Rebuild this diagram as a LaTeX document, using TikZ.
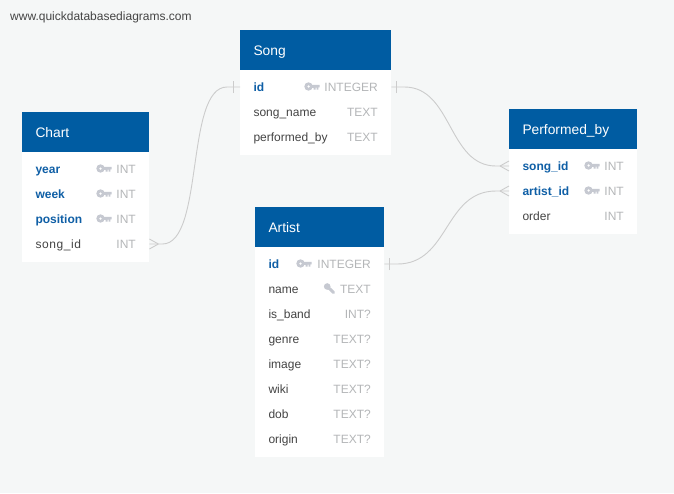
\documentclass[tikz,border=0pt]{standalone}
\usepackage{fontspec}
\setmainfont{Liberation Sans}
\definecolor{bgc}{HTML}{F5F7F7}
\definecolor{headc}{HTML}{005CA2}
\definecolor{keyc}{HTML}{0F5FA6}
\definecolor{darkc}{HTML}{444444}
\definecolor{typec}{HTML}{B4B6B8}
\definecolor{iconc}{HTML}{C6C9D1}
\definecolor{linkc}{HTML}{CCCCCC}
\tikzset{
  x=1pt,y=-1pt,
  bodybox/.style={fill=white,draw=none,anchor=north west,inner sep=0pt},
  headbox/.style={fill=headc,draw=none,anchor=north west,inner sep=0pt},
  headtext/.style={text=white,anchor=base west,inner sep=0pt,font=\fontsize{13.8}{15}\selectfont},
  rowbox/.style={anchor=west,inner sep=0pt,minimum height=25pt},
  fieldtext/.style={text=darkc,anchor=base west,inner sep=0pt,font=\fontsize{12}{14}\selectfont},
  fktext/.style={text=darkc,anchor=base west,inner sep=0pt,font=\fontsize{12}{14}\selectfont\addfontfeatures{LetterSpace=5}},
  pktext/.style={text=keyc,anchor=base west,inner sep=0pt,font=\fontsize{12}{14}\selectfont\bfseries},
  typetext/.style={text=typec,anchor=base east,inner sep=0pt,font=\fontsize{12}{14}\selectfont},
  link/.style={draw=linkc,line width=0.9pt},
  tickmark/.style={draw=linkc,line width=0.9pt},
  brand/.style={text=darkc,anchor=base west,inner sep=0pt,font=\fontsize{12}{14}\selectfont},
}
% table: name, x, y, width, height of body end, title
\newcommand{\dbtable}[6]{%
  \node[bodybox,minimum width=#4pt,minimum height=#5pt] (#1) at (#2,#3) {};
  \node[headbox,minimum width=#4pt,minimum height=40pt] (#1head) at (#2,#3) {};
  \node[headtext] (#1title) at (#2+13.3,#3+25) {#6};
}
% row: node name, table x, width, y, field style, field, type
\newcommand{\dbrow}[7]{%
  \node[rowbox,minimum width=#3pt] (#1) at (#2,#4) {};
  \node[#5] (#1f) at (#2+13.3,#4+4) {#6};
  \node[typetext] (#1t) at (#2+#3-13,#4+4) {#7};
}
\newcommand{\keyicon}[2]{%
  \fill[iconc,even odd rule] (#1+4,#2) circle (4.2) (#1+4,#2) circle (1.5);
  \fill[iconc] (#1+7,#2-1.7) -- (#1+15,#2-1.7) -- (#1+15,#2+0.9) -- (#1+13.8,#2+0.9) -- (#1+13.8,#2+3) -- (#1+12,#2+3) -- (#1+12,#2+1.2) -- (#1+11,#2+1.2) -- (#1+11,#2+3) -- (#1+9.2,#2+3) -- (#1+9.2,#2+1.4) -- (#1+7,#2+1.4) -- cycle;
}
\newcommand{\wrenchicon}[2]{%
  \draw[iconc,line width=3pt,line cap=round] (#1+3.6,#2-0.2) -- (#1+9.6,#2+5.6);
  \fill[iconc] (#1+3.2,#2-0.5) circle (3.3);
}
\begin{document}
\begin{tikzpicture}
\useasboundingbox (0,0) rectangle (674,493);
\fill[bgc] (0,0) rectangle (674,493);
\node[brand] (site) at (10,20) {www.quickdatabasediagrams.com};

\dbtable{chart}{22}{112}{127}{150}{Chart}
\dbrow{cyear}{22}{127}{169}{pktext}{year}{INT}
\dbrow{cweek}{22}{127}{194}{pktext}{week}{INT}
\dbrow{cpos}{22}{127}{219}{pktext}{position}{INT}
\dbrow{csong}{22}{127}{244}{fktext}{song\_id}{INT}
\keyicon{96.5}{168.5}\keyicon{96.5}{193.5}\keyicon{96.5}{218.5}

\dbtable{song}{240}{30}{151}{125}{Song}
\dbrow{sid}{240}{151}{87}{pktext}{id}{INTEGER}
\dbrow{sname}{240}{151}{112}{fieldtext}{song\_name}{TEXT}
\dbrow{sperf}{240}{151}{137}{fieldtext}{performed\_by}{TEXT}
\keyicon{304.5}{86.5}

\dbtable{artist}{255}{207}{129}{250}{Artist}
\dbrow{aid}{255}{129}{264}{pktext}{id}{INTEGER}
\dbrow{aname}{255}{129}{289}{fieldtext}{name}{TEXT}
\dbrow{aband}{255}{129}{314}{fieldtext}{is\_band}{INT?}
\dbrow{agenre}{255}{129}{339}{fieldtext}{genre}{TEXT?}
\dbrow{aimage}{255}{129}{364}{fieldtext}{image}{TEXT?}
\dbrow{awiki}{255}{129}{389}{fieldtext}{wiki}{TEXT?}
\dbrow{adob}{255}{129}{414}{fieldtext}{dob}{TEXT?}
\dbrow{aorigin}{255}{129}{439}{fieldtext}{origin}{TEXT?}
\keyicon{296.5}{263.5}
\wrenchicon{324}{287}

\dbtable{perf}{509}{109}{128}{125}{Performed\_by}
\dbrow{psong}{509}{128}{166}{pktext}{song\_id}{INT}
\dbrow{partist}{509}{128}{191}{pktext}{artist\_id}{INT}
\dbrow{porder}{509}{128}{216}{fieldtext}{order}{INT}
\keyicon{584.5}{165.5}\keyicon{584.5}{190.5}

% connectors
\draw[link] (csong.east) -- ++(13,0) .. controls +(42,0) and +(-42,0) .. ([xshift=-13pt]sid.west) -- (sid.west);
\draw[link] (sid.east) -- ++(13,0) .. controls +(48,0) and +(-48,0) .. ([xshift=-13pt]psong.west) -- (psong.west);
\draw[link] (aid.east) -- ++(13,0) .. controls +(52,0) and +(-52,0) .. ([xshift=-13pt]partist.west) -- (partist.west);
% crow's feet and bars
\draw[tickmark] ([xshift=9pt]csong.east) -- ([yshift=-5pt]csong.east) ([xshift=9pt]csong.east) -- ([yshift=5pt]csong.east);
\draw[tickmark] ([xshift=-9pt]psong.west) -- ([yshift=-5pt]psong.west) ([xshift=-9pt]psong.west) -- ([yshift=5pt]psong.west);
\draw[tickmark] ([xshift=-9pt]partist.west) -- ([yshift=-5pt]partist.west) ([xshift=-9pt]partist.west) -- ([yshift=5pt]partist.west);
\draw[tickmark] ([xshift=-7pt,yshift=-6pt]sid.west) -- ([xshift=-7pt,yshift=6pt]sid.west);
\draw[tickmark] ([xshift=5pt,yshift=-6pt]sid.east) -- ([xshift=5pt,yshift=6pt]sid.east);
\draw[tickmark] ([xshift=5pt,yshift=-6pt]aid.east) -- ([xshift=5pt,yshift=6pt]aid.east);
\end{tikzpicture}
\end{document}
